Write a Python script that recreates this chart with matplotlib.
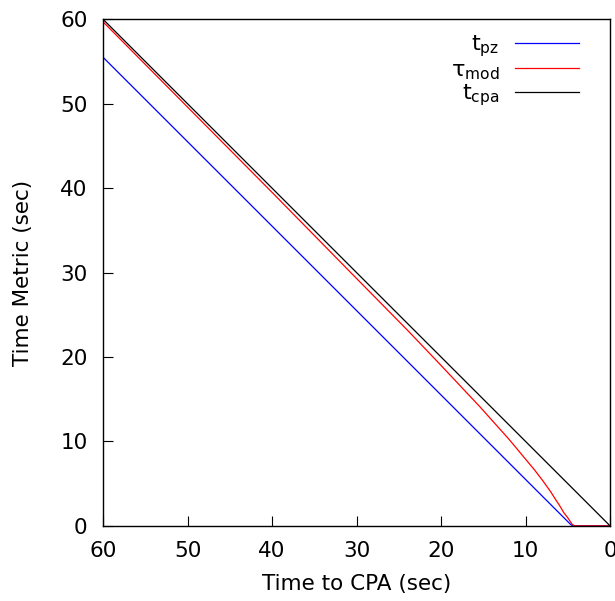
import matplotlib
matplotlib.use('Agg')
import matplotlib.pyplot as plt

# time to CPA (sec) and the three metrics
t_cpa_x = [60, 0]
t_cpa_y = [60, 0]

t_pz_x = [60, 30, 10, 6, 5.0, 4.7, 4.5, 4.4, 0]
t_pz_y = [55.5, 25.5, 5.5, 1.5, 0.5, 0.2, 0.05, 0, 0]

tau_x = [60, 50, 40, 30, 24, 20, 15.4, 12, 10, 9, 8, 7, 6.5, 6, 5.5, 5, 4.7, 4.5, 4.3, 4.2, 0]
tau_y = [59.7, 49.6, 39.5, 29.3, 23.2, 19.0, 14.1, 10.3, 7.9, 6.7, 5.4, 4.0, 3.2, 2.45, 1.6, 0.95, 0.5, 0.2, 0.05, 0, 0]

plt.rcParams['font.family'] = 'DejaVu Sans'
plt.rcParams['mathtext.default'] = 'regular'

fig = plt.figure(figsize=(6.15, 6.01), dpi=100)
ax = fig.add_axes([0.1675, 0.125, 0.8245, 0.843])

ax.plot(t_pz_x, t_pz_y, color='#0000ff', lw=0.9, label='t$_{pz}$')
ax.plot(tau_x, tau_y, color='#ff0000', lw=0.9, label=r'$\tau_{mod}$')
ax.plot(t_cpa_x, t_cpa_y, color='black', lw=0.9, label='t$_{cpa}$')

ax.set_xlim(60, 0)
ax.set_ylim(0, 60)
ax.set_xticks([60, 50, 40, 30, 20, 10, 0])
ax.set_yticks([0, 10, 20, 30, 40, 50, 60])
ax.tick_params(direction='in', labelsize=15.5, length=7, pad=11, top=False, right=False)
ax.set_xlabel('Time to CPA (sec)', fontsize=15.5, labelpad=9)
ax.set_ylabel('Time Metric (sec)', fontsize=15.5, labelpad=20)
for s in ax.spines.values():
    s.set_linewidth(1.0)

ax.legend(loc='upper right', frameon=False, markerfirst=False, fontsize=16,
          handlelength=2.9, handletextpad=0.7, labelspacing=0.03,
          borderaxespad=0.25, bbox_to_anchor=(0.968, 1.0))

plt.savefig('out.png', dpi=100)
